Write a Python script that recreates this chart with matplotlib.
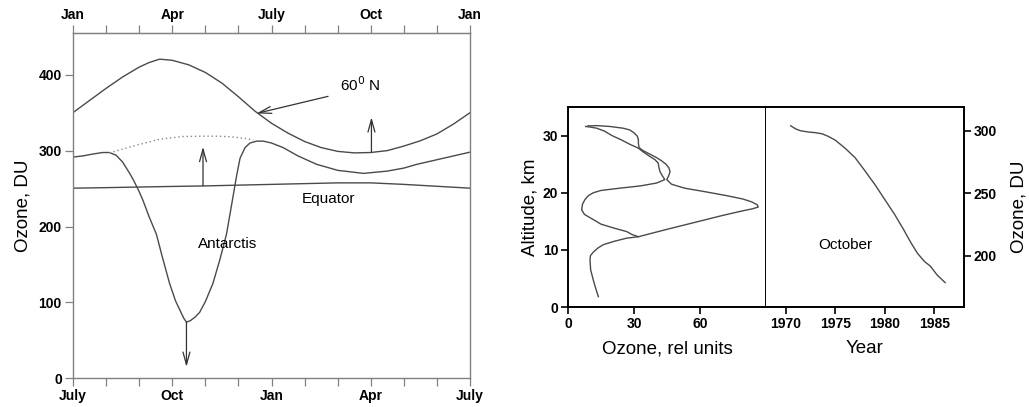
import matplotlib
matplotlib.use("Agg")
import matplotlib.pyplot as plt

plt.rcParams['font.family'] = ['Liberation Sans', 'DejaVu Sans']

# ---------------- Left panel data (x = month index, 0..12) ----------------
top_month_labels = ["Jan", "Apr", "July", "Oct", "Jan"]
bottom_month_labels = ["July", "Oct", "Jan", "Apr", "July"]

month_60n = [0, 0.5, 1.0, 1.5, 2.0, 2.3, 2.62, 3.0, 3.5, 4.0, 4.5, 5.0, 5.5,
             6.0, 6.5, 7.0, 7.5, 8.0, 8.5, 9.0, 9.5, 10.0, 10.5, 11.0, 11.5, 12]
oz_60n = [350, 366, 382, 397, 410, 416, 420.5, 419, 413, 403, 389, 371, 352,
          336, 323, 312, 304, 299, 297, 297.5, 300, 306, 313, 322, 335, 350]

month_ant = [0, 0.3, 0.6, 0.9, 1.1, 1.3, 1.5, 1.7, 1.82, 2.0, 2.12, 2.3, 2.52,
             2.7, 2.92, 3.1, 3.23, 3.35, 3.43, 3.55, 3.7, 3.83, 4.0, 4.23,
             4.45, 4.64, 4.80, 4.95, 5.05, 5.2, 5.35, 5.55, 5.75, 6.0, 6.35,
             6.8, 7.36, 8.0, 8.78, 9.5, 10.0, 10.4, 11.0, 11.5, 12]
oz_ant = [291.5, 293, 295.5, 297.5, 297.5, 294, 285, 271, 262, 246, 234, 213,
          190, 160, 125, 102, 90, 79, 74, 76, 81, 87, 101, 125,
          158, 190, 230, 268, 290, 304, 310, 312.5, 312.5, 310, 304,
          293, 282, 274, 270, 273, 277, 282, 288, 293, 298]

month_dot = [1.1, 1.5, 2.0, 2.62, 3.3, 3.85, 4.4, 4.84, 5.2, 5.45]
oz_dot = [297, 302, 308, 315, 318.5, 319, 319, 318, 316, 314]

month_eq = [0, 1, 2, 3, 4, 5, 6, 7, 8, 9, 10, 11, 12]
oz_eq = [250.5, 251.2, 252, 252.8, 253.5, 254.5, 255.5, 256.5, 257.5, 257.5,
         255.5, 253, 250.5]

# ---------------- Right panel data ----------------
alt_a = [1.8, 3.0, 4.7, 6.5, 8.2, 9.0, 9.6, 10.3, 10.9, 11.5, 12.05, 12.3,
         13.5, 14.7, 16.0, 16.8, 17.2, 17.5, 17.9, 18.4, 18.9, 19.5, 20.2,
         20.8, 21.5, 22.3, 23.0, 23.7, 24.4, 25.0, 25.6, 26.2, 26.8, 27.4,
         27.9, 28.6, 29.3, 29.9, 30.5, 31.0, 31.3, 31.6, 31.75, 31.7]
oz_a = [13.8, 12.8, 11.5, 10.3, 10, 10.2, 11.5, 13.5, 16, 21, 26.7, 32,
        44, 56.5, 70, 79, 84, 86.5, 86, 83.5, 79.5, 72, 62,
        53, 47, 44.9, 45.8, 46.4, 45.8, 44.5, 42.5, 40, 37, 34,
        32.3, 32, 32, 31.5, 30, 28, 25, 19, 13, 9]

alt_b = [12.3, 12.7, 13.2, 13.8, 14.5, 15.3, 16.2, 17.0, 18.0, 18.8, 19.5,
         20.0, 20.4, 20.8, 21.2, 21.7, 22.3, 22.9, 23.7, 24.5, 25.2, 25.8,
         26.4, 27.2, 27.8, 28.5, 29.3, 30.0, 30.8, 31.3, 31.5, 31.6]
oz_b = [32, 29, 26.7, 21, 15, 11.5, 7.5, 6.2, 6.6, 7.7, 9.3,
        11.5, 15, 23.6, 33, 40.3, 44, 43, 41.8, 41.3, 41, 39.5,
        37, 34, 32, 28, 24, 20, 16.5, 13, 10, 8]

year = [1970.5, 1971, 1971.5, 1972.3, 1973, 1973.7, 1974.3, 1975, 1976, 1977,
        1977.9, 1979, 1980, 1981, 1981.9, 1982.6, 1983.3, 1984, 1984.6,
        1985.3, 1986.1]
oz_oct = [304, 301.5, 300, 299, 298.5, 297.5, 295.5, 292.5, 286, 278.5,
          269, 257, 245, 233, 221, 211, 202, 195.5, 191.7, 184.5, 178.5]

line_col = "#4a4a4a"
spine_gray = "#808080"
tick_font = dict(fontsize=10, fontweight="bold")
label_size = 13.5
note_size = 11

fig = plt.figure(figsize=(10.29, 4.07), dpi=100)

# ---------------- Left panel ----------------
ax = fig.add_axes([0.0709, 0.0705, 0.3859, 0.8485])
ax.plot(month_60n, oz_60n, color=line_col, lw=1.0)
ax.plot(month_ant, oz_ant, color=line_col, lw=1.0)
ax.plot(month_dot, oz_dot, color="#888888", lw=1.0, ls=(0, (1, 2)))
ax.plot(month_eq, oz_eq, color=line_col, lw=1.0)

ax.set_xlim(0, 12)
ax.set_ylim(0, 455)
ax.set_xticks([0, 3, 6, 9, 12])
ax.set_xticks(range(13), minor=True)
ax.set_xticklabels(bottom_month_labels, **tick_font)
ax.set_yticks([0, 100, 200, 300, 400])
ax.set_yticklabels(["0", "100", "200", "300", "400"], **tick_font)
ax.tick_params(axis="both", which="both", direction="out", length=6,
               color=spine_gray, width=0.9, pad=2)
for s in ax.spines.values():
    s.set_color(spine_gray)
    s.set_linewidth(1.0)
ax.set_ylabel("Ozone, DU", fontsize=label_size, labelpad=5)

sec = ax.secondary_xaxis("top")
sec.set_xticks([0, 3, 6, 9, 12])
sec.set_xticks(range(13), minor=True)
sec.set_xticklabels(top_month_labels, **tick_font)
sec.tick_params(axis="x", which="both", direction="out", length=6,
                color=spine_gray, width=0.9, pad=2)
sec.spines["top"].set_color(spine_gray)

arrow_kw = dict(arrowstyle="->,head_length=0.9,head_width=0.25",
                color="#333333", lw=0.9, shrinkA=0, shrinkB=0)
ax.annotate("", xy=(5.55, 349), xytext=(7.71, 371.5), arrowprops=arrow_kw)
ax.annotate("", xy=(3.93, 305), xytext=(3.93, 253.5), arrowprops=arrow_kw)
ax.annotate("", xy=(9.02, 344), xytext=(9.02, 298.5), arrowprops=arrow_kw)
ax.annotate("", xy=(3.43, 15), xytext=(3.43, 74), arrowprops=arrow_kw)

ax.text(8.68, 387, "60$^{0}$ N", fontsize=note_size, ha="center", va="center")
ax.text(7.72, 236, "Equator", fontsize=note_size, ha="center", va="center")
ax.text(4.66, 177, "Antarctis", fontsize=note_size, ha="center", va="center")

# ---------------- Right panel: profile ----------------
ax1 = fig.add_axes([0.552, 0.2457, 0.1924, 0.4913])
ax1.plot(oz_a, alt_a, color=line_col, lw=1.0)
ax1.plot(oz_b, alt_b, color=line_col, lw=1.0)
ax1.set_xlim(0, 90)
ax1.set_ylim(0, 35)
ax1.set_xticks([0, 30, 60])
ax1.set_xticklabels(["0", "30", "60"], **tick_font)
ax1.set_yticks([0, 10, 20, 30])
ax1.set_yticklabels(["0", "10", "20", "30"], **tick_font)
ax1.tick_params(axis="both", direction="out", length=5, width=1.2, pad=2)
for s in ax1.spines.values():
    s.set_linewidth(1.4)
ax1.set_xlabel("Ozone, rel units", fontsize=label_size, labelpad=7)
ax1.set_ylabel("Altitude, km", fontsize=label_size, labelpad=3)

# ---------------- Right panel: October trend ----------------
ax2 = fig.add_axes([0.7444, 0.2457, 0.1924, 0.4913])
ax2.plot(year, oz_oct, color=line_col, lw=1.0)
ax2.set_xlim(1968, 1988)
ax2.set_ylim(159, 319)
ax2.set_xticks([1970, 1975, 1980, 1985])
ax2.set_xticklabels(["1970", "1975", "1980", "1985"], **tick_font)
ax2.yaxis.tick_right()
ax2.yaxis.set_label_position("right")
ax2.set_yticks([200, 250, 300])
ax2.set_yticklabels(["200", "250", "300"], **tick_font)
ax2.tick_params(axis="both", direction="out", length=5, width=1.2, pad=2)
for s in ax2.spines.values():
    s.set_linewidth(1.4)
ax2.spines["left"].set_visible(False)
ax2.set_xlabel("Year", fontsize=label_size, labelpad=7)
ax2.set_ylabel("Ozone, DU", fontsize=label_size, labelpad=10)
ax2.text(1976, 209, "October", fontsize=note_size, ha="center", va="center")

fig.savefig("out.png", dpi=100)
